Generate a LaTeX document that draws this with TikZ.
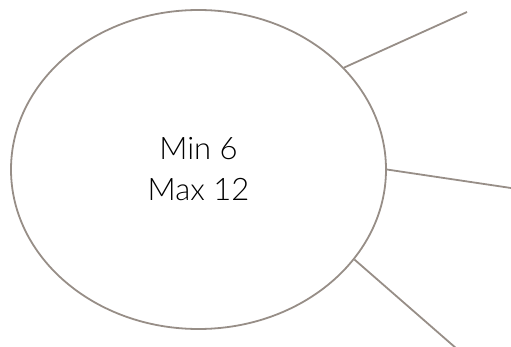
\documentclass[tikz,border=0pt]{standalone}
\usepackage{fontspec}
\newfontfamily\hubfont{Lato}[UprightFont=* Light]
\usepackage{tikz}
\usetikzlibrary{shapes.geometric}

\definecolor{rimgray}{HTML}{978E87}

\begin{document}
\begin{tikzpicture}[x=1pt, y=1pt,
    hub/.style = {draw=rimgray, line width=1.8pt, ellipse, inner sep=0pt,
                  minimum width=375pt, minimum height=319pt},
    spoke/.style = {draw=rimgray, line width=1.8pt},
    lbl/.style = {font=\hubfont\fontsize{31}{41}\selectfont, align=center}]
    \useasboundingbox (0,0) rectangle (511,346);

    \node[hub] (H) at (198.5,176.5) {};
    \node[lbl] (L) at (198.5,176.5) {Min 6\\Max 12};

    \coordinate (E1) at (467,334);
    \coordinate (E2) at (513,157.7);
    \coordinate (E3) at (457,-3);

    \draw[spoke] (H.35.5) -- (E1);
    \draw[spoke] (H.-0.5) -- (E2);
    \draw[spoke] (H.-30.9) -- (E3);
\end{tikzpicture}
\end{document}
